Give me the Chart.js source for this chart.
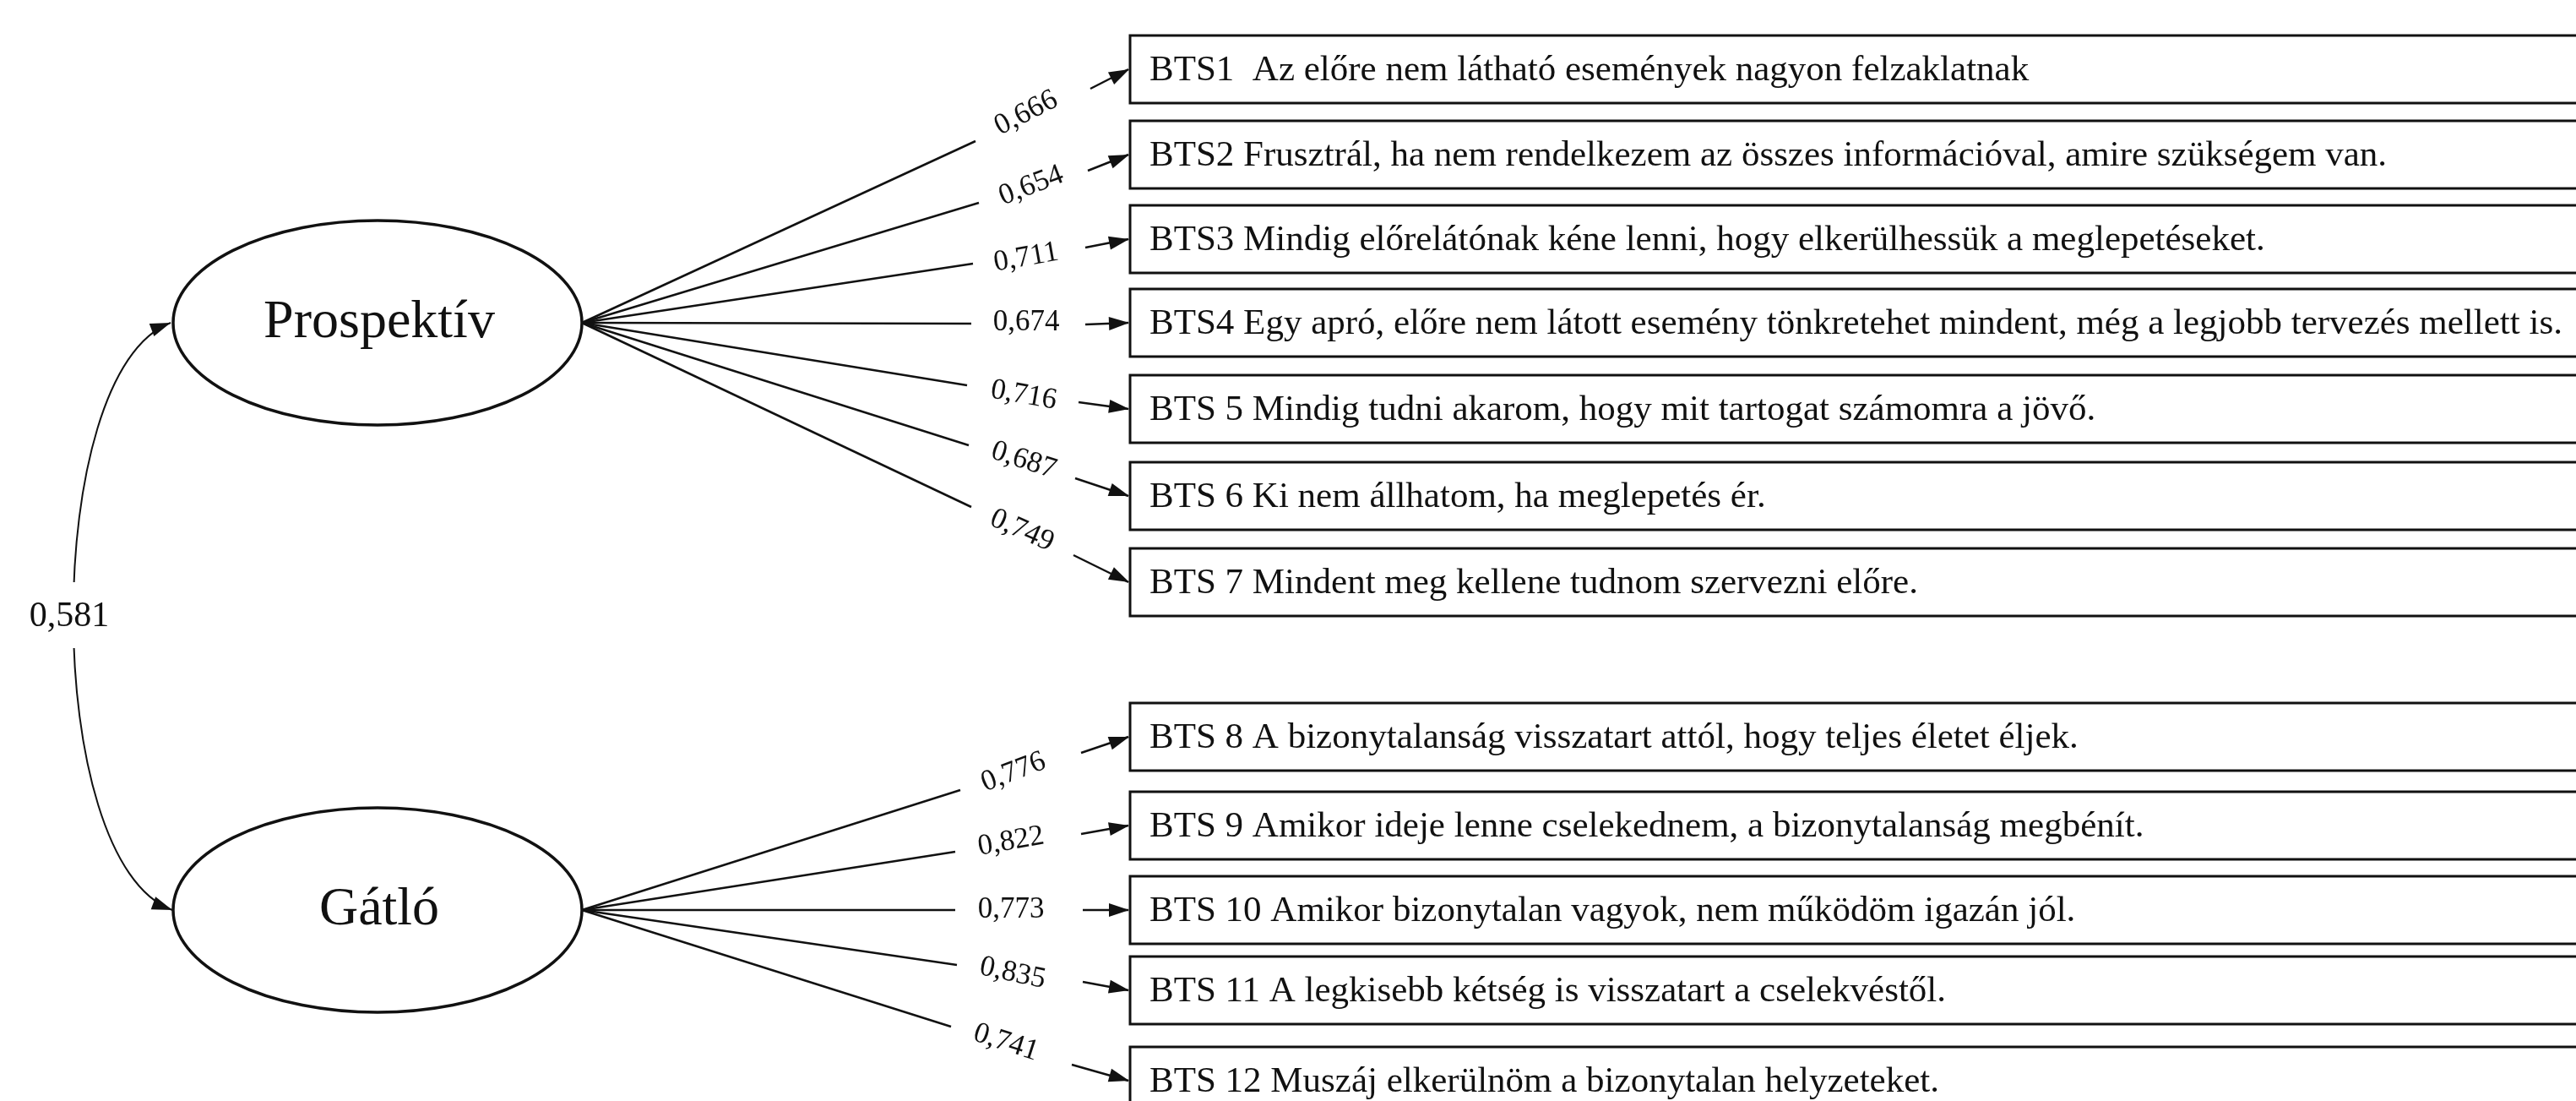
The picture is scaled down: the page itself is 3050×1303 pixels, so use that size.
<!DOCTYPE html>
<html>
<head>
<meta charset="utf-8">
<script src="https://cdn.jsdelivr.net/npm/chart.js@4.4.0/dist/chart.umd.min.js"></script>
<style>
body { margin: 0; background: #fff; }
canvas { display: block; }
</style>
</head>
<body>
<canvas id="pathChart" width="3050" height="1303"></canvas>
<script>
// DATA
let factors = ['Prospektív', 'Gátló'];
let items = [
	'BTS1  Az előre nem látható események nagyon felzaklatnak',
	'BTS2 Frusztrál, ha nem rendelkezem az összes információval, amire szükségem van.',
	'BTS3 Mindig előrelátónak kéne lenni, hogy elkerülhessük a meglepetéseket.',
	'BTS4 Egy apró, előre nem látott esemény tönkretehet mindent, még a legjobb tervezés mellett is.',
	'BTS 5 Mindig tudni akarom, hogy mit tartogat számomra a jövő.',
	'BTS 6 Ki nem állhatom, ha meglepetés ér.',
	'BTS 7 Mindent meg kellene tudnom szervezni előre.',
	'BTS 8 A bizonytalanság visszatart attól, hogy teljes életet éljek.',
	'BTS 9 Amikor ideje lenne cselekednem, a bizonytalanság megbénít.',
	'BTS 10 Amikor bizonytalan vagyok, nem működöm igazán jól.',
	'BTS 11 A legkisebb kétség is visszatart a cselekvéstől.',
	'BTS 12 Muszáj elkerülnöm a bizonytalan helyzeteket.'
];
let itemFactor = [0, 0, 0, 0, 0, 0, 0, 1, 1, 1, 1, 1];
let loadings = [0.666, 0.654, 0.711, 0.674, 0.716, 0.687, 0.749, 0.776, 0.822, 0.773, 0.835, 0.741];
let correlation = 0.581;

// LAYOUT (diagram units = pixels of the 3050x1303 drawing)
let factorX = 447, factorRx = 242, factorRy = 121;
let factorY = [382, 1077];
let boxLeft = 1338, boxHeight = 80, textLeft = 1361;
let boxY = [82, 183, 283, 382, 484, 587, 689, 872, 977, 1077, 1172, 1279];
let lineEnd = [[1155, 167], [1159, 240], [1152, 312], [1150, 383], [1145, 456], [1147, 527], [1150, 600],
	[1137, 935], [1131, 1008], [1131, 1077], [1133, 1142], [1126, 1215]];
let arrowStart = [[1291, 105], [1288, 202], [1285, 293], [1285, 384], [1277, 476], [1273, 566], [1271, 657],
	[1280, 891], [1280, 987], [1282, 1077], [1282, 1162], [1269, 1260]];
let labelPos = [[1215, 134], [1221, 220], [1215, 305], [1215, 382], [1212, 468], [1212, 545], [1210, 628],
	[1200, 914], [1197, 996], [1197, 1077], [1199, 1152], [1191, 1234]];
let labelAngle = [-27, -21, -10, 0, 10, 18, 24, -21, -10, 0, 12, 18];

let serif = "'Liberation Serif', 'Times New Roman', serif";
let fmt = v => v.toFixed(3).replace('.', ',');

// LINE DATASETS: factor -> label gap, label gap -> box
let datasets = [];
items.forEach((item, i) => {
	let f = itemFactor[i];
	datasets.push({
		data: [{x: factorX + factorRx, y: factorY[f]}, {x: lineEnd[i][0], y: lineEnd[i][1]}],
		showLine: true, borderColor: '#111', borderWidth: 2.5, pointRadius: 0
	});
	datasets.push({
		data: [{x: arrowStart[i][0], y: arrowStart[i][1]}, {x: boxLeft - 2, y: boxY[i]}],
		showLine: true, borderColor: '#111', borderWidth: 2.5, pointRadius: 0
	});
});

function arrowHead(ctx, fx, fy, tx, ty, len, half) {
	let a = Math.atan2(ty - fy, tx - fx);
	ctx.beginPath();
	ctx.moveTo(tx, ty);
	ctx.lineTo(tx - len * Math.cos(a) + half * Math.sin(a), ty - len * Math.sin(a) - half * Math.cos(a));
	ctx.lineTo(tx - len * Math.cos(a) - half * Math.sin(a), ty - len * Math.sin(a) + half * Math.cos(a));
	ctx.closePath();
	ctx.fill();
}

let diagramPlugin = {
	id: 'diagram',
	beforeDraw(chart) {
		let ctx = chart.ctx;
		ctx.save();
		ctx.fillStyle = '#fff';
		ctx.fillRect(0, 0, chart.width, chart.height);
		ctx.restore();
	},
	afterDatasetsDraw(chart) {
		let ctx = chart.ctx;
		let sx = v => chart.scales.x.getPixelForValue(v);
		let sy = v => chart.scales.y.getPixelForValue(v);
		ctx.save();
		ctx.fillStyle = '#111';
		ctx.strokeStyle = '#111';

		// factor ellipses
		ctx.lineWidth = 3.5;
		factors.forEach((name, f) => {
			ctx.beginPath();
			ctx.ellipse(sx(factorX), sy(factorY[f]), sx(factorX + factorRx) - sx(factorX),
				Math.abs(sy(factorY[f] + factorRy) - sy(factorY[f])), 0, 0, Math.PI * 2);
			ctx.stroke();
			ctx.font = '64px ' + serif;
			ctx.textAlign = 'center';
			ctx.textBaseline = 'middle';
			ctx.fillText(name, sx(factorX + 2), sy(factorY[f]));
		});

		// item boxes
		ctx.lineWidth = 3;
		ctx.textAlign = 'left';
		items.forEach((item, i) => {
			let top = sy(boxY[i] - boxHeight / 2);
			ctx.strokeRect(sx(boxLeft), top, sx(3060) - sx(boxLeft), sy(boxY[i] + boxHeight / 2) - top);
			ctx.font = '43px ' + serif;
			ctx.fillText(item, sx(textLeft), sy(boxY[i]) + 2);
			arrowHead(ctx, sx(arrowStart[i][0]), sy(arrowStart[i][1]), sx(boxLeft - 1), sy(boxY[i]), 24, 8);
		});

		// loadings
		ctx.font = '35px ' + serif;
		ctx.textAlign = 'center';
		loadings.forEach((v, i) => {
			ctx.save();
			ctx.translate(sx(labelPos[i][0]), sy(labelPos[i][1]));
			ctx.rotate(labelAngle[i] * Math.PI / 180);
			ctx.fillText(fmt(v), 0, 0);
			ctx.restore();
		});

		// correlation curve
		let p0 = [202, factorY[0]], p1 = [48, 440], p2 = [48, 1020], p3 = [204, factorY[1]];
		ctx.lineWidth = 2;
		ctx.beginPath();
		ctx.moveTo(sx(p0[0]), sy(p0[1]));
		ctx.bezierCurveTo(sx(p1[0]), sy(p1[1]), sx(p2[0]), sy(p2[1]), sx(p3[0]), sy(p3[1]));
		ctx.stroke();
		arrowHead(ctx, sx(p1[0]), sy(p1[1]), sx(p0[0]), sy(p0[1]), 24, 8);
		arrowHead(ctx, sx(p2[0]), sy(p2[1]), sx(p3[0]), sy(p3[1]), 24, 8);
		ctx.fillStyle = '#fff';
		ctx.fillRect(sx(30), sy(689), sx(140) - sx(30), sy(767) - sy(689));
		ctx.fillStyle = '#111';
		ctx.font = '42px ' + serif;
		ctx.fillText(fmt(correlation), sx(82), sy(730));
		ctx.restore();
	}
};

let pathChart = new Chart(document.getElementById('pathChart').getContext('2d'), {
	type: 'scatter',
	data: {datasets: datasets},
	options: {
		responsive: false,
		animation: false,
		devicePixelRatio: 1,
		layout: {padding: 0},
		plugins: {legend: {display: false}, tooltip: {enabled: false}},
		scales: {
			x: {type: 'linear', min: 0, max: 3050, display: false},
			y: {type: 'linear', min: 0, max: 1303, reverse: true, display: false}
		}
	},
	plugins: [diagramPlugin]
});
</script>
</body>
</html>
